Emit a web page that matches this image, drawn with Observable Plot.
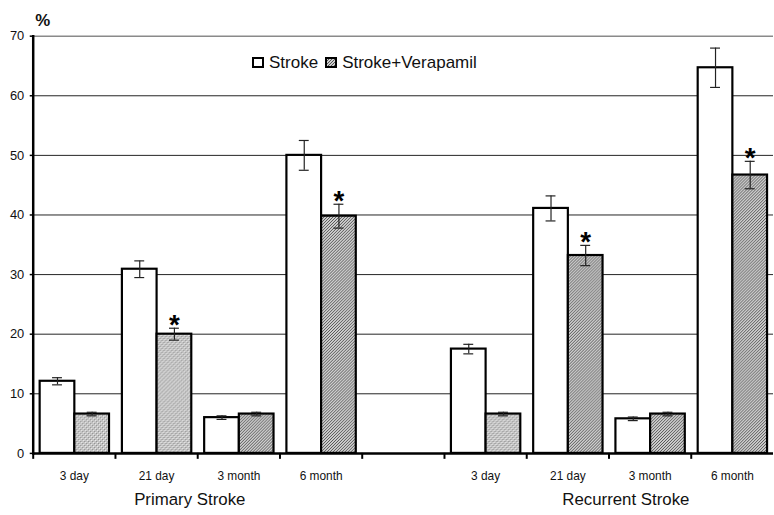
<!DOCTYPE html>
<html><head><meta charset="utf-8">
<script src="https://cdn.jsdelivr.net/npm/d3@7"></script>
<script src="https://cdn.jsdelivr.net/npm/@observablehq/plot@0.6"></script>
<style>
body{margin:0;background:#fff;font-family:Arial,"Liberation Sans",sans-serif;}
#wrap{position:relative;width:774px;height:515px;overflow:hidden;background:#fff;}
#legend{position:absolute;left:252px;top:54px;height:17px;font-size:17px;line-height:17px;display:flex;align-items:center;color:#111;white-space:nowrap;}
#legend svg{display:block;}
</style></head>
<body>
<div id="wrap"><div id="chart"></div>
<div id="legend">
<svg width="12" height="11"><rect x="1" y="1" width="10" height="9" fill="#fff" stroke="#000" stroke-width="2"/></svg>
<span style="margin-left:5px">Stroke</span>
<svg width="12" height="11" style="margin-left:7px"><defs><pattern id="hatchL" patternUnits="userSpaceOnUse" width="3" height="3"><rect width="3" height="3" fill="#cfcfcf"/><path d="M-1,1 l2,-2 M0,3 l3,-3 M2,4 l2,-2" stroke="#555" stroke-width="1"/></pattern></defs><rect x="1" y="1" width="10" height="9" fill="url(#hatchL)" stroke="#000" stroke-width="2"/></svg>
<span style="margin-left:5px">Stroke+Verapamil</span>
</div>
</div>
<script>
const groups = ["Primary Stroke", "Recurrent Stroke"];
const times = ["3 day", "21 day", "3 month", "6 month"];
const strokeValues = [12.1, 30.9, 6.0, 50.0, 17.5, 41.1, 5.8, 64.7];
const strokeErrors = [0.6, 1.4, 0.3, 2.5, 0.8, 2.1, 0.3, 3.3];
const verapamilValues = [6.6, 20.0, 6.6, 39.8, 6.6, 33.2, 6.6, 46.7];
const verapamilErrors = [0.3, 1.0, 0.3, 2.0, 0.3, 1.7, 0.3, 2.3];
const significant = [false, true, false, true, false, true, false, true];
const yTicks = [0, 10, 20, 30, 40, 50, 60, 70];

const rows = [];
groups.forEach((g, gi) => times.forEach((t, ti) => {
  const i = gi * times.length + ti;
  rows.push({key: g + "|" + t, group: g, time: t,
    stroke: strokeValues[i], strokeErr: strokeErrors[i],
    verap: verapamilValues[i], verapErr: verapamilErrors[i], sig: significant[i]});
}));
const domain = [
  ...times.map(t => groups[0] + "|" + t), "gap",
  ...times.map(t => groups[1] + "|" + t)
];
// pattern used for each Verapamil bar (style only)
const dotted = new Set(["Primary Stroke|3 day", "Primary Stroke|21 day", "Recurrent Stroke|3 day"]);

const barStyle = {stroke: "#000", strokeWidth: 2.2};
const errStyle = {stroke: "#222", strokeWidth: 1.2};

const chart = Plot.plot({
  width: 781, height: 515,
  marginLeft: 33, marginRight: 1, marginTop: 36, marginBottom: 58,
  style: {fontFamily: "Arial, 'Liberation Sans', sans-serif", fontSize: "13px", color: "#111", background: "#fff"},
  x: {type: "band", domain, padding: 0, label: null},
  y: {domain: [0, 70], label: null},
  marks: [
    Plot.ruleY(yTicks.filter(d => d > 0 && d < 70), {stroke: "#222", strokeWidth: 1}),
    Plot.ruleY([70], {stroke: "#8a8a8a", strokeWidth: 1.5}),
    Plot.barY(rows, {x: "key", y: "stroke", fill: "#fff", ...barStyle, insetLeft: 7, insetRight: 41}),
    Plot.barY(rows.filter(d => dotted.has(d.key)), {x: "key", y: "verap", fill: "url(#dots)", ...barStyle, insetLeft: 42, insetRight: 6}),
    Plot.barY(rows.filter(d => !dotted.has(d.key)), {x: "key", y: "verap", fill: "url(#hatch)", ...barStyle, insetLeft: 42, insetRight: 6}),
    Plot.ruleX(rows, {x: "key", y1: d => d.stroke - d.strokeErr, y2: d => d.stroke + d.strokeErr, dx: -17, ...errStyle}),
    Plot.tickY(rows, {x: "key", y: d => d.stroke + d.strokeErr, insetLeft: 19.5, insetRight: 53.5, ...errStyle}),
    Plot.tickY(rows, {x: "key", y: d => d.stroke - d.strokeErr, insetLeft: 19.5, insetRight: 53.5, ...errStyle}),
    Plot.ruleX(rows, {x: "key", y1: d => d.verap - d.verapErr, y2: d => d.verap + d.verapErr, dx: 18, ...errStyle}),
    Plot.tickY(rows, {x: "key", y: d => d.verap + d.verapErr, insetLeft: 54.5, insetRight: 18.5, ...errStyle}),
    Plot.tickY(rows, {x: "key", y: d => d.verap - d.verapErr, insetLeft: 54.5, insetRight: 18.5, ...errStyle}),
    Plot.text(rows.filter(d => d.sig), {x: "key", y: d => d.verap + d.verapErr, text: () => "*", dx: 18, dy: -3, fontSize: 28, fontWeight: "bold", fill: "#000"}),
    Plot.ruleY([0], {stroke: "#000", strokeWidth: 2.5}),
    Plot.frame({anchor: "left", stroke: "#000", strokeWidth: 2.5}),
    Plot.ruleX(domain, {x: d => d, y1: 0, y2: 0, insetTop: 6, dx: -41.5, stroke: "#000", strokeWidth: 2}),
    Plot.axisY(yTicks, {tickSize: 3, tickPadding: 6, fontSize: 13, stroke: "#000", strokeWidth: 1.5, fill: "#111"}),
    Plot.axisX({tickSize: 0, tickPadding: 18, fontSize: 12, fill: "#111", tickFormat: d => d === "gap" ? "" : d.split("|")[1]}),
    Plot.text([groups[0]], {x: () => groups[0] + "|21 day", y: () => 0, dx: 33.5, dy: 47, fontSize: 17, fill: "#111"}),
    Plot.text([groups[1]], {x: () => groups[1] + "|21 day", y: () => 0, dx: 58.5, dy: 47, fontSize: 17, fill: "#111"}),
    Plot.text(["%"], {frameAnchor: "top-left", textAnchor: "start", lineAnchor: "top", dx: 2, dy: -22, fontSize: 17, fontWeight: "bold", fill: "#111"})
  ]
});

const ns = "http://www.w3.org/2000/svg";
const defs = document.createElementNS(ns, "defs");
defs.innerHTML = `
<pattern id="dots" patternUnits="userSpaceOnUse" width="4" height="4">
  <rect width="4" height="4" fill="#c4c4c4"/>
  <rect x="0" y="0" width="1" height="1" fill="#f2f2f2"/>
  <rect x="2" y="2" width="1" height="1" fill="#f2f2f2"/>
  <rect x="1" y="1" width="1" height="1" fill="#8a8a8a"/>
  <rect x="3" y="3" width="1" height="1" fill="#8a8a8a"/>
</pattern>
<pattern id="hatch" patternUnits="userSpaceOnUse" width="3" height="3">
  <rect width="3" height="3" fill="#cfcfcf"/>
  <path d="M-1,1 l2,-2 M0,3 l3,-3 M2,4 l2,-2" stroke="#555" stroke-width="1"/>
</pattern>`;
chart.insertBefore(defs, chart.firstChild);
document.getElementById("chart").appendChild(chart);
</script>
</body></html>
